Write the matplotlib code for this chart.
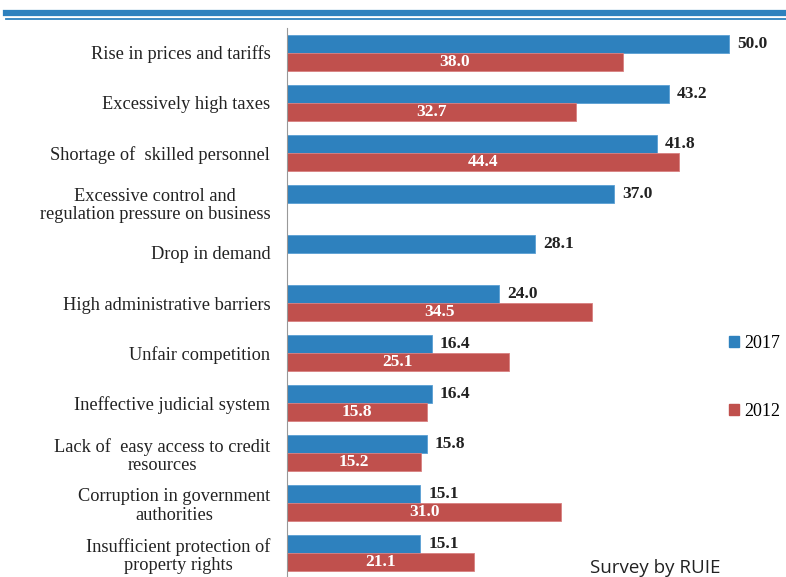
import matplotlib.pyplot as plt
import numpy as np
from matplotlib.patches import Patch
from matplotlib.lines import Line2D

categories = [
    'Rise in prices and tariffs',
    'Excessively high taxes',
    'Shortage of  skilled personnel',
    'Excessive control and\nregulation pressure on business',
    'Drop in demand',
    'High administrative barriers',
    'Unfair competition',
    'Ineffective judicial system',
    'Lack of  easy access to credit\nresources',
    'Corruption in government\nauthorities',
    'Insufficient protection of\nproperty rights',
]
vals_2017 = [50.0, 43.2, 41.8, 37.0, 28.1, 24.0, 16.4, 16.4, 15.8, 15.1, 15.1]
vals_2012 = [38.0, 32.7, 44.4, None, None, 34.5, 25.1, 15.8, 15.2, 31.0, 21.1]

BLUE = '#2E81BE'
RED = '#C0504D'
SERIF = 'Liberation Serif'

fig = plt.figure(figsize=(7.86, 5.77), dpi=100)
W, H = 786, 577
# axes: left x=287, top y=28, bottom y=577
ax = fig.add_axes([287 / W, 0, (W - 287) / W, (577 - 28) / H])

y = np.arange(len(categories))
h = 0.36
for i in y:
    v17 = vals_2017[i]
    ax.barh(i - h / 2, v17, height=h, color=BLUE, edgecolor='#5a9fd4', linewidth=0.6)
    ax.text(v17 + 0.9, i - h / 2, f'{v17:.1f}', va='center', ha='left',
            fontsize=12.5, fontweight='bold', family=SERIF, color='#222222')
    v12 = vals_2012[i]
    if v12 is not None:
        ax.barh(i + h / 2, v12, height=h, color=RED, edgecolor='#d98080', linewidth=0.6)
        ax.text(v12 / 2, i + h / 2, f'{v12:.1f}', va='center', ha='center',
                fontsize=12.5, fontweight='bold', family=SERIF, color='white')

ax.set_xlim(0, (W - 287) / 8.84)
ax.set_ylim(10.47, -0.49)
ax.set_yticks(y)
ax.set_yticklabels(categories, family=SERIF, fontsize=13.2, color='#222222',
                   multialignment='center', linespacing=1.1)
ax.tick_params(axis='y', length=0, pad=12)
ax.set_xticks([])
for s in ['top', 'right', 'bottom']:
    ax.spines[s].set_visible(False)
ax.spines['left'].set_color('#999999')
ax.spines['left'].set_linewidth(0.8)

# header rules
fig.add_artist(Line2D([6 / W, 1], [1 - 13 / H, 1 - 13 / H], color=BLUE, linewidth=4.5))
fig.add_artist(Line2D([6 / W, 1], [1 - 18.5 / H, 1 - 18.5 / H], color=BLUE, linewidth=1.3))

handles = [Patch(color=BLUE, label='2017'), Patch(color=RED, label='2012')]
fig.legend(handles=handles, loc='upper left', bbox_to_anchor=(713 / W, 1 - 319 / H),
           frameon=False, prop={'family': SERIF, 'size': 13},
           handlelength=0.55, handleheight=0.55, handletextpad=0.3, labelspacing=2.8)

fig.text(590 / W, 1 - 573 / H, 'Survey by RUIE', family='Open Sans', fontsize=13.5,
         color='#222222', va='baseline')

fig.savefig('out.png', dpi=100)
